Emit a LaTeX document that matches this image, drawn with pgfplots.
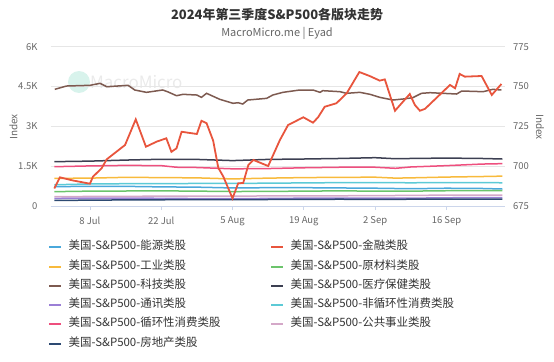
\documentclass[border=0pt]{standalone}
\usepackage{pgfplots}
\pgfplotsset{compat=1.18}
\usepackage{fontspec}
\setmainfont{Noto Sans CJK SC}
\definecolor{en}{HTML}{4AA8DB}
\definecolor{fin}{HTML}{E8553D}
\definecolor{ind}{HTML}{F8BA3C}
\definecolor{mat}{HTML}{6CC46C}
\definecolor{tec}{HTML}{7D5A50}
\definecolor{hc}{HTML}{3C3F52}
\definecolor{com}{HTML}{9B7FD6}
\definecolor{stp}{HTML}{5CCAD6}
\definecolor{cd}{HTML}{EE4F7E}
\definecolor{utl}{HTML}{D4A8C8}
\definecolor{re}{HTML}{2D4A72}
\definecolor{tickc}{HTML}{666666}
\definecolor{gridc}{HTML}{E6E6E6}
\definecolor{axc}{HTML}{CCD6EB}
\definecolor{titc}{HTML}{333333}
\definecolor{mint}{HTML}{D8F3EC}
\definecolor{wm}{HTML}{EAEAEA}
\begin{document}
\begin{tikzpicture}[x=1bp,y=1bp]
\fill[mint] (79,279) circle (11);
\node[anchor=west, text=wm, font=\fontsize{17}{17}\selectfont, inner sep=0pt] at (90,279) {MacroMicro};
\node[font=\fontsize{13}{13}\selectfont\bfseries, text=titc] at (277,346) {2024年第三季度S\&P500各版块走势};
\node[font=\fontsize{11}{11}\selectfont, text=tickc] at (277,328) {MacroMicro.me | Eyad};
\node[font=\fontsize{10}{10}\selectfont, text=tickc, rotate=90] at (13.5,234) {Index};
\node[font=\fontsize{10}{10}\selectfont, text=tickc, rotate=-90] at (540,234) {Index};
\begin{axis}[
  at={(50.7bp,155bp)}, anchor=south west, scale only axis,
  width=454.3bp, height=159.3bp,
  xmin=-0.7, xmax=88.5, ymin=0, ymax=6000,
  axis x line*=bottom, axis y line*=left,
  x axis line style={draw=axc, line width=0.8bp, -},
  y axis line style={draw=none},
  ytick={0,1500,3000,4500,6000}, yticklabels={0,1.5K,3K,4.5K,6K},
  xtick={7,21,35,49,63,77}, xticklabels={8 Jul,22 Jul,5 Aug,19 Aug,2 Sep,16 Sep},
  tick align=outside, major tick length=4bp,
  xtick style={draw=axc, line width=0.8bp},
  ytick style={draw=none},
  ymajorgrids, grid style={draw=gridc, line width=0.8bp},
  yticklabel style={font=\fontsize{9.5}{10}\selectfont, text=tickc, inner sep=0pt, anchor=east, xshift=-9bp},
  xticklabel style={font=\fontsize{9.5}{10}\selectfont, text=tickc, inner sep=0pt, anchor=north, yshift=-6.5bp},
  legend columns=2,
  legend image code/.code={\draw[#1, line width=2bp] (0bp,0bp) -- (12bp,0bp);},
  legend style={at={(0,0)}, anchor=north west, xshift=-2.7bp, yshift=-35.5bp,
    draw=none, fill=none, inner sep=0pt, row sep=8.3bp,
    font=\fontsize{11.5}{13}\selectfont, text=titc,
    nodes={inner sep=0pt, anchor=west, text height=8bp, text depth=3bp},
    /tikz/every odd column/.append style={column sep=6.5bp},
    /tikz/every even column/.append style={column sep=11.5bp}},
  every axis plot/.append style={line width=1.5bp, mark=none},
]
\addplot[en] coordinates {(0,730)(7,740)(14,740)(21,720)(28,710)(35,680)(42,690)(49,690)(56,680)(63,670)(70,650)(77,670)(84,660)(88,640)};
\addlegendentry{\makebox[190bp][l]{美国-S\&P500-能源类股}}
\addlegendimage{fin, line width=2bp}
\addlegendentry{美国-S\&P500-金融类股}
\addplot[ind] coordinates {(0,1040)(7,1050)(14,1080)(21,1070)(28,1060)(35,1020)(42,1050)(49,1070)(56,1080)(63,1085)(67,1050)(70,1060)(77,1090)(84,1110)(88,1125)};
\addlegendentry{\makebox[190bp][l]{美国-S\&P500-工业类股}}
\addplot[mat] coordinates {(0,540)(7,560)(14,565)(21,570)(28,560)(35,545)(42,550)(49,560)(56,570)(63,560)(70,560)(77,575)(84,580)(88,575)};
\addlegendentry{美国-S\&P500-原材料类股}
\addplot[tec] coordinates {(0.1,4395)(2.4,4519)(7,4545)(9,4620)(10.3,4493)(14.5,4545)(15.8,4369)(18.1,4281)(21.3,4369)(22.3,4300)(24,4154)(25.3,4206)(28,4180)(28.9,4093)(29.9,4244)(32.5,4018)(35.1,3868)(36.1,3890)(37,3841)(38,3992)(41.7,4055)(42.9,4180)(44.9,4281)(48.2,4369)(50.8,4369)(52.2,4281)(52.7,4344)(56.1,4306)(57.4,4244)(60,4281)(62,4206)(63.9,4093)(66.5,3992)(68.5,4030)(70.4,4080)(72.1,4244)(73.8,4268)(79,4218)(80,4331)(84.2,4306)(86.1,4394)(87.8,4369)};
\addlegendentry{\makebox[190bp][l]{美国-S\&P500-科技类股}}
\addplot[hc] coordinates {(0,1670)(7,1690)(14,1730)(21,1760)(28,1755)(35,1710)(42,1755)(49,1770)(56,1790)(63,1820)(67,1780)(70,1790)(77,1805)(84,1790)(88,1770)};
\addlegendentry{美国-S\&P500-医疗保健类股}
\addplot[com] coordinates {(0,290)(7,300)(14,300)(21,290)(28,280)(35,275)(42,285)(49,295)(56,300)(63,300)(70,295)(77,310)(84,315)(88,320)};
\addlegendentry{\makebox[190bp][l]{美国-S\&P500-通讯类股}}
\addplot[stp] coordinates {(0,800)(7,830)(14,840)(21,840)(28,850)(35,850)(42,860)(49,870)(56,880)(63,880)(70,875)(77,880)(84,880)(88,875)};
\addlegendentry{美国-S\&P500-非循环性消费类股}
\addplot[cd] coordinates {(0,1480)(7,1510)(14,1530)(21,1520)(24,1460)(28,1450)(35,1400)(42,1410)(49,1440)(56,1460)(63,1460)(67,1420)(70,1470)(77,1520)(84,1580)(88,1595)};
\addlegendentry{\makebox[190bp][l]{美国-S\&P500-循环性消费类股}}
\addplot[utl] coordinates {(0,350)(7,360)(14,365)(21,370)(28,375)(35,370)(42,380)(49,385)(56,385)(63,390)(70,400)(77,410)(84,410)(88,410)};
\addlegendentry{美国-S\&P500-公共事业类股}
\addplot[re] coordinates {(0,210)(7,220)(14,230)(21,235)(28,240)(35,240)(42,245)(49,250)(56,255)(63,250)(70,255)(77,260)(84,260)(88,255)};
\addlegendentry{\makebox[190bp][l]{美国-S\&P500-房地产类股}}
\end{axis}
\begin{axis}[
  at={(50.7bp,155bp)}, anchor=south west, scale only axis,
  width=454.3bp, height=159.3bp,
  xmin=-0.7, xmax=88.5, ymin=675, ymax=775,
  axis x line=none, axis y line*=right,
  y axis line style={draw=none},
  ytick={675,700,725,750,775}, yticklabels={675,700,725,750,775},
  ytick style={draw=none},
  yticklabel style={font=\fontsize{9.5}{10}\selectfont, text=tickc, inner sep=0pt, anchor=west, xshift=8bp},
]
\addplot[fin, line width=1.8bp, mark=none] coordinates {(0,686)(1.1,693)(3.7,691)(7,689)(7.6,693.4)(9.3,698.7)(10.3,704.3)(13.9,713.3)(16,729.4)(18,712.2)(20.1,715.4)(22,717.5)(23,709)(24,711.2)(25,721.6)(28,720.2)(28.9,728.5)(29.9,727)(31.2,716)(32.2,699)(33.2,693.4)(35,679.8)(36.1,689.2)(37.1,689.5)(38.1,700.7)(39.1,703.9)(42,700.1)(44.3,716.4)(45.9,725.8)(48.9,730.7)(50.8,727.3)(51.8,730.7)(53.1,737.3)(55.4,739.5)(57.4,745.7)(59.9,759.1)(62,756.5)(63.9,753.7)(64.9,754.5)(66.9,734.8)(69.8,745.3)(70.8,738.4)(71.8,734.8)(72.8,736)(77.7,751)(78.7,748.9)(79.6,757.9)(80.6,756.2)(83.9,756.6)(85.9,744.7)(87.8,751.6)};
\end{axis}
\pgfresetboundingbox
\path[use as bounding box] (0,0) rectangle (554,361);
\end{tikzpicture}
\end{document}
